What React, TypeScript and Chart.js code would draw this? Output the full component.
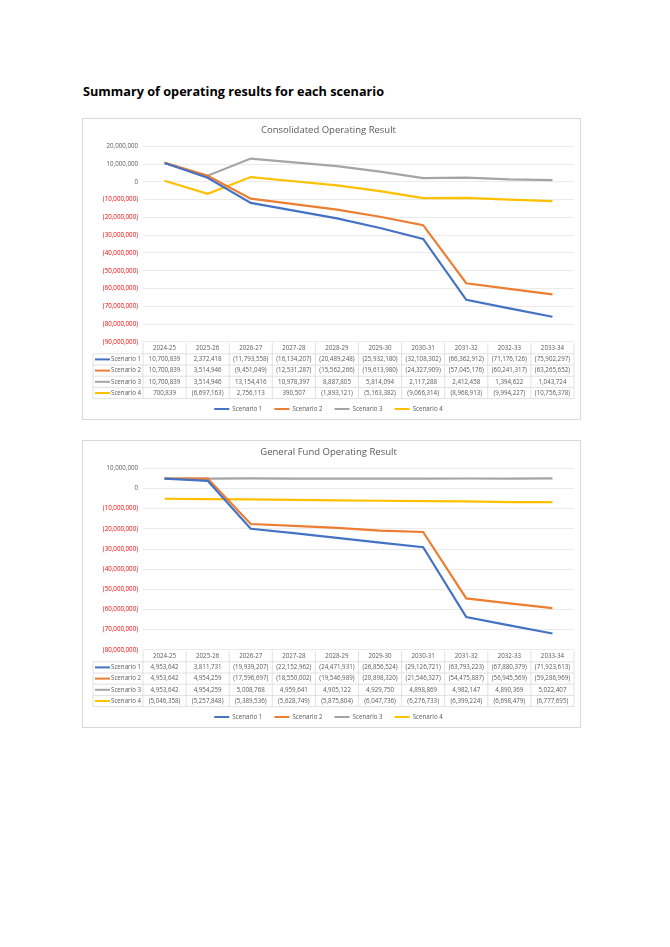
import React, { useEffect, useRef } from "react";
import { Chart, registerables } from "chart.js";

Chart.register(...registerables);

const categories = ["2024-25", "2025-26", "2026-27", "2027-28", "2028-29", "2029-30", "2030-31", "2031-32", "2032-33", "2033-34"];
const scenarioNames = ["Scenario 1", "Scenario 2", "Scenario 3", "Scenario 4"];
const scenarioColors = ["#4472C4", "#ED7D31", "#A5A5A5", "#FFC000"];

const consolidatedS1 = [10700839, 2372418, -11793558, -16134207, -20489248, -25932180, -32108302, -66362912, -71176126, -75902297];
const consolidatedS2 = [10700839, 3514946, -9451049, -12531287, -15562266, -19613980, -24327909, -57045176, -60241317, -63265652];
const consolidatedS3 = [10700839, 3514946, 13154416, 10978397, 8887805, 5814094, 2117288, 2412458, 1394622, 1043724];
const consolidatedS4 = [700839, -6697163, 2756113, 390507, -1893121, -5163382, -9066314, -8968913, -9994227, -10756378];

const generalS1 = [4953642, 3811731, -19939207, -22152962, -24471931, -26856524, -29126721, -63793223, -67880379, -71923613];
const generalS2 = [4953642, 4954259, -17596697, -18550002, -19546989, -20898320, -21546327, -54475887, -56945569, -59286969];
const generalS3 = [4953642, 4954259, 5008768, 4959641, 4905122, 4929750, 4898869, 4982147, 4890369, 5022407];
const generalS4 = [-5046358, -5257848, -5389536, -5628749, -5875804, -6047736, -6276733, -6399224, -6698479, -6777695];

const consolidatedTicks = { min: -90000000, max: 20000000, step: 10000000 };
const generalTicks = { min: -80000000, max: 10000000, step: 10000000 };

const FONT = '"Open Sans", "Noto Sans", sans-serif';
const TEXT = "#595959";

function fmt(v: number): string {
  const s = Math.abs(v).toLocaleString("en-US");
  return v < 0 ? `(${s})` : s;
}

const tablePlugin = {
  id: "dataTable",
  afterDraw(chart: any) {
    const { ctx, chartArea } = chart;
    const xs = chart.scales.x;
    const labels: string[] = chart.data.labels;
    const n = labels.length;
    const left = chartArea.left;
    const right = chartArea.right;
    const colW = (right - left) / n;
    const y0 = chartArea.bottom + 1;
    const headH = 11;
    const rowH = 11.2;
    const sets = chart.data.datasets;
    const bottom = y0 + headH + sets.length * rowH;
    const legLeft = left - 50;
    ctx.save();
    ctx.strokeStyle = "#d9d9d9";
    ctx.lineWidth = 0.8;
    const line = (a: number, b: number, c: number, d: number) => {
      ctx.beginPath();
      ctx.moveTo(a, b);
      ctx.lineTo(c, d);
      ctx.stroke();
    };
    for (let i = 0; i <= n; i++) {
      const xx = left + i * colW;
      line(xx, y0, xx, bottom);
    }
    line(legLeft, y0 + headH, legLeft, bottom);
    for (let r = 0; r <= sets.length; r++) {
      const yy = y0 + headH + r * rowH;
      line(legLeft, yy, right, yy);
    }
    ctx.font = `6.2px ${FONT}`;
    ctx.fillStyle = TEXT;
    ctx.textBaseline = "middle";
    ctx.textAlign = "center";
    labels.forEach((lab, i) => {
      ctx.fillText(lab, xs.getPixelForValue(i), y0 + headH / 2);
    });
    sets.forEach((ds: any, r: number) => {
      const cy = y0 + headH + r * rowH + rowH / 2;
      ctx.strokeStyle = ds.borderColor;
      ctx.lineWidth = 2;
      line(legLeft + 2, cy, legLeft + 17, cy);
      ctx.textAlign = "left";
      ctx.fillStyle = TEXT;
      ctx.fillText(ds.label, legLeft + 18, cy);
      ctx.textAlign = "center";
      ds.data.forEach((v: number, i: number) => {
        ctx.fillText(fmt(v), xs.getPixelForValue(i), cy);
      });
    });
    ctx.restore();
  },
};

type BoxProps = {
  top: number;
  height: number;
  title: string;
  series: number[][];
  range: { min: number; max: number; step: number };
};

function ChartBox({ top, height, title, series, range }: BoxProps) {
  const ref = useRef<HTMLCanvasElement | null>(null);
  useEffect(() => {
    if (!ref.current) return;
    const chart = new Chart(ref.current, {
      type: "line",
      data: {
        labels: categories,
        datasets: series.map((data, i) => ({
          label: scenarioNames[i],
          data,
          borderColor: scenarioColors[i],
          backgroundColor: scenarioColors[i],
          borderWidth: 2.2,
          pointRadius: 0,
          tension: 0,
        })),
      },
      options: {
        animation: false,
        responsive: true,
        maintainAspectRatio: false,
        layout: { padding: { left: 0, right: 6, top: 0, bottom: -3 } },
        plugins: {
          title: {
            display: true,
            text: title,
            color: TEXT,
            font: { family: FONT, size: 9.5, weight: "normal" },
            padding: { top: 6, bottom: 10 },
          },
          legend: {
            position: "bottom",
            labels: {
              boxWidth: 15,
              boxHeight: 2,
              padding: 12,
              color: TEXT,
              font: { family: FONT, size: 6.2 },
              generateLabels: (c: any) =>
                (Chart.defaults.plugins.legend.labels.generateLabels as any)(c).map((l: any) => ({ ...l, lineWidth: 0 })),
            },
          },
          tooltip: { enabled: false },
        },
        scales: {
          x: {
            type: "category",
            offset: true,
            grid: { display: false },
            border: { display: false },
            ticks: { display: false },
            afterFit: (s: any) => {
              s.height = 52;
            },
          },
          y: {
            min: range.min,
            max: range.max,
            grid: { color: "#e6e6e6", drawTicks: false, lineWidth: 0.8 },
            border: { display: false },
            ticks: {
              stepSize: range.step,
              padding: 5,
              font: { family: FONT, size: 6.2 },
              color: (c: any) => (c.tick && c.tick.value < 0 ? "#ff0000" : TEXT),
              callback: (v: any) => fmt(Number(v)),
            },
            afterFit: (s: any) => {
              s.width = 60;
            },
          },
        },
      },
      plugins: [tablePlugin],
    } as any);
    return () => chart.destroy();
  }, []);
  return (
    <div
      style={{
        position: "absolute",
        left: 74,
        top,
        width: 499,
        height,
        boxSizing: "border-box",
        border: "1px solid #d9d9d9",
        background: "#fff",
      }}
    >
      <div style={{ position: "relative", width: "100%", height: "100%" }}>
        <canvas ref={ref} />
      </div>
    </div>
  );
}

export default function App() {
  return (
    <div style={{ position: "relative", width: 654, height: 931 }}>
      <div
        style={{
          position: "absolute",
          left: 75,
          top: 76,
          fontFamily: FONT,
          fontWeight: 700,
          fontSize: 12.7,
          lineHeight: "15px",
          color: "#000",
          whiteSpace: "nowrap",
        }}
      >
        Summary of operating results for each scenario
      </div>
      <ChartBox
        top={110}
        height={302}
        title="Consolidated Operating Result"
        series={[consolidatedS1, consolidatedS2, consolidatedS3, consolidatedS4]}
        range={consolidatedTicks}
      />
      <ChartBox
        top={432}
        height={288}
        title="General Fund Operating Result"
        series={[generalS1, generalS2, generalS3, generalS4]}
        range={generalTicks}
      />
    </div>
  );
}
